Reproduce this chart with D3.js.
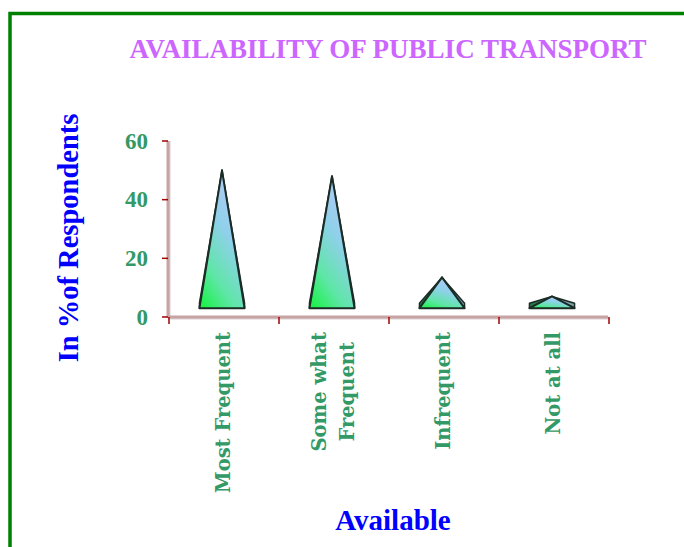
<!DOCTYPE html>
<html>
    <head>
        <meta charset="utf-8">
        <style>
          body { margin: 0; background: #fff; }
        </style>
    </head>
    <body>
        <svg width="684" height="547"></svg>
        <script src="https://d3js.org/d3.v7.min.js"></script>
        <script>
          var categories = [["Most Frequent"], ["Some what", "Frequent"], ["Infrequent"], ["Not at all"]];
          var values = [50, 48, 13.5, 7];
          var yTicks = [0, 20, 40, 60];
          var floorValue = 3; // pyramids sit on a raised 3D floor

          var svg = d3.select("svg");
          var plot = {left: 168, right: 608, top: 141, bottom: 317};

          // frame
          svg.append("rect")
            .attr("x", 10).attr("y", 13.5)
            .attr("width", 700).attr("height", 560)
            .attr("fill", "none")
            .attr("stroke", "#008000")
            .attr("stroke-width", 3.5);

          var defs = svg.append("defs");
          var grad = defs.append("linearGradient")
            .attr("id", "front")
            .attr("x1", 0).attr("y1", 1).attr("x2", 0.45).attr("y2", 0.1);
          grad.append("stop").attr("offset", "0%").attr("stop-color", "#12f43c");
          grad.append("stop").attr("offset", "35%").attr("stop-color", "#5ee6a6");
          grad.append("stop").attr("offset", "75%").attr("stop-color", "#8fd0ea");
          grad.append("stop").attr("offset", "100%").attr("stop-color", "#a6cdf2");

          var x = d3.scaleBand()
            .domain(d3.range(categories.length))
            .range([plot.left, plot.right]);

          var y = d3.scaleLinear()
            .domain([0, 60])
            .range([plot.bottom, plot.top]);

          // title
          svg.append("text")
            .attr("x", 388).attr("y", 58)
            .attr("text-anchor", "middle")
            .style("font-family", "Liberation Serif, Times New Roman, serif")
            .style("font-weight", "bold")
            .style("font-size", "27px")
            .attr("fill", "#cc66ff")
            .text("AVAILABILITY OF PUBLIC TRANSPORT");

          // axes lines
          var axisColor = "#c9a3a3";
          svg.append("line")
            .attr("x1", plot.left + 1).attr("x2", plot.left + 1)
            .attr("y1", y(60)).attr("y2", y(0) + 1)
            .attr("stroke", "#d9d0d0").attr("stroke-width", 3);
          svg.append("line")
            .attr("x1", plot.left).attr("x2", plot.left)
            .attr("y1", y(60)).attr("y2", y(0))
            .attr("stroke", axisColor).attr("stroke-width", 3);
          svg.append("line")
            .attr("x1", plot.left).attr("x2", plot.right)
            .attr("y1", y(0) + 1).attr("y2", y(0) + 1)
            .attr("stroke", "#d9d0d0").attr("stroke-width", 3);
          svg.append("line")
            .attr("x1", plot.left).attr("x2", plot.right)
            .attr("y1", y(0)).attr("y2", y(0))
            .attr("stroke", axisColor).attr("stroke-width", 3);

          // y ticks
          var yAxis = svg.append("g");
          yAxis.selectAll("line").data(yTicks).enter().append("line")
            .attr("x1", plot.left - 6).attr("x2", plot.left)
            .attr("y1", function(d) { return y(d); })
            .attr("y2", function(d) { return y(d); })
            .attr("stroke", "#a00000").attr("stroke-width", 1.5);
          yAxis.selectAll("text").data(yTicks).enter().append("text")
            .attr("x", plot.left - 20)
            .attr("y", function(d) { return y(d); })
            .attr("dy", "0.34em")
            .attr("text-anchor", "end")
            .style("font-family", "Liberation Serif, Times New Roman, serif")
            .style("font-weight", "bold")
            .style("font-size", "23px")
            .attr("fill", "#339966")
            .text(function(d) { return d; });

          // x ticks at band edges
          var edges = x.domain().map(function(d) { return x(d); }).concat([plot.right]);
          svg.append("g").selectAll("line").data(edges).enter().append("line")
            .attr("x1", function(d) { return d + 1; })
            .attr("x2", function(d) { return d + 1; })
            .attr("y1", y(0)).attr("y2", y(0) + 7)
            .attr("stroke", "#a00000").attr("stroke-width", 1.5);

          // pyramids
          var half = x.bandwidth() * 0.205;
          var depth = 5;
          var pyr = svg.append("g").selectAll("g")
            .data(values).enter().append("g");

          pyr.each(function(v, i) {
            var g = d3.select(this);
            var cx = x(i) + x.bandwidth() / 2 - 1;
            var yb = y(floorValue);
            var ya = y(v);
            var top = yb - depth;
            var l = cx - half, r = cx + half;
            // left side face
            g.append("path")
              .attr("d", d3.line()([[l, yb], [l, top], [cx, ya]]) + "Z")
              .attr("fill", "#2a7a48")
              .attr("stroke", "#1b2b26").attr("stroke-width", 1.5)
              .attr("stroke-linejoin", "round");
            // right side face
            g.append("path")
              .attr("d", d3.line()([[r, yb], [r, top], [cx, ya]]) + "Z")
              .attr("fill", "#7ea2ae")
              .attr("stroke", "#1b2b26").attr("stroke-width", 1.5)
              .attr("stroke-linejoin", "round");
            // front face
            g.append("path")
              .attr("d", d3.line()([[l, yb], [cx, ya], [r, yb]]) + "Z")
              .attr("fill", "url(#front)")
              .attr("stroke", "#1b2b26").attr("stroke-width", 2)
              .attr("stroke-linejoin", "round");
          });

          // category labels (rotated)
          var labels = svg.append("g").selectAll("g")
            .data(categories).enter().append("g");
          labels.each(function(lines, i) {
            var g = d3.select(this);
            var cx = x(i) + x.bandwidth() / 2;
            var lineH = 28;
            var texts = lines.map(function(s, j) {
              return g.append("text")
                .attr("text-anchor", "middle")
                .style("font-family", "DejaVu Serif, serif")
                .style("font-weight", "bold")
                .style("font-size", "19.5px")
                .attr("fill", "#339966")
                .text(s);
            });
            var maxW = d3.max(texts, function(t) { return t.node().getComputedTextLength(); });
            var cy = y(0) + 15 + maxW / 2;
            texts.forEach(function(t, j) {
              var tx = cx + (j - (lines.length - 1) / 2) * lineH + 7;
              t.attr("transform", "translate(" + tx + "," + cy + ") rotate(-90)");
            });
          });

          // axis titles
          svg.append("text")
            .attr("transform", "translate(78," + 238 + ") rotate(-90)")
            .attr("text-anchor", "middle")
            .style("font-family", "Liberation Serif, Times New Roman, serif")
            .style("font-weight", "bold")
            .style("font-size", "28.5px")
            .attr("fill", "#0000ff")
            .text("In %of Respondents");

          svg.append("text")
            .attr("x", 393).attr("y", 530)
            .attr("text-anchor", "middle")
            .style("font-family", "Liberation Serif, Times New Roman, serif")
            .style("font-weight", "bold")
            .style("font-size", "29px")
            .attr("fill", "#0000ff")
            .text("Available");
        </script>
    </body>
</html>
